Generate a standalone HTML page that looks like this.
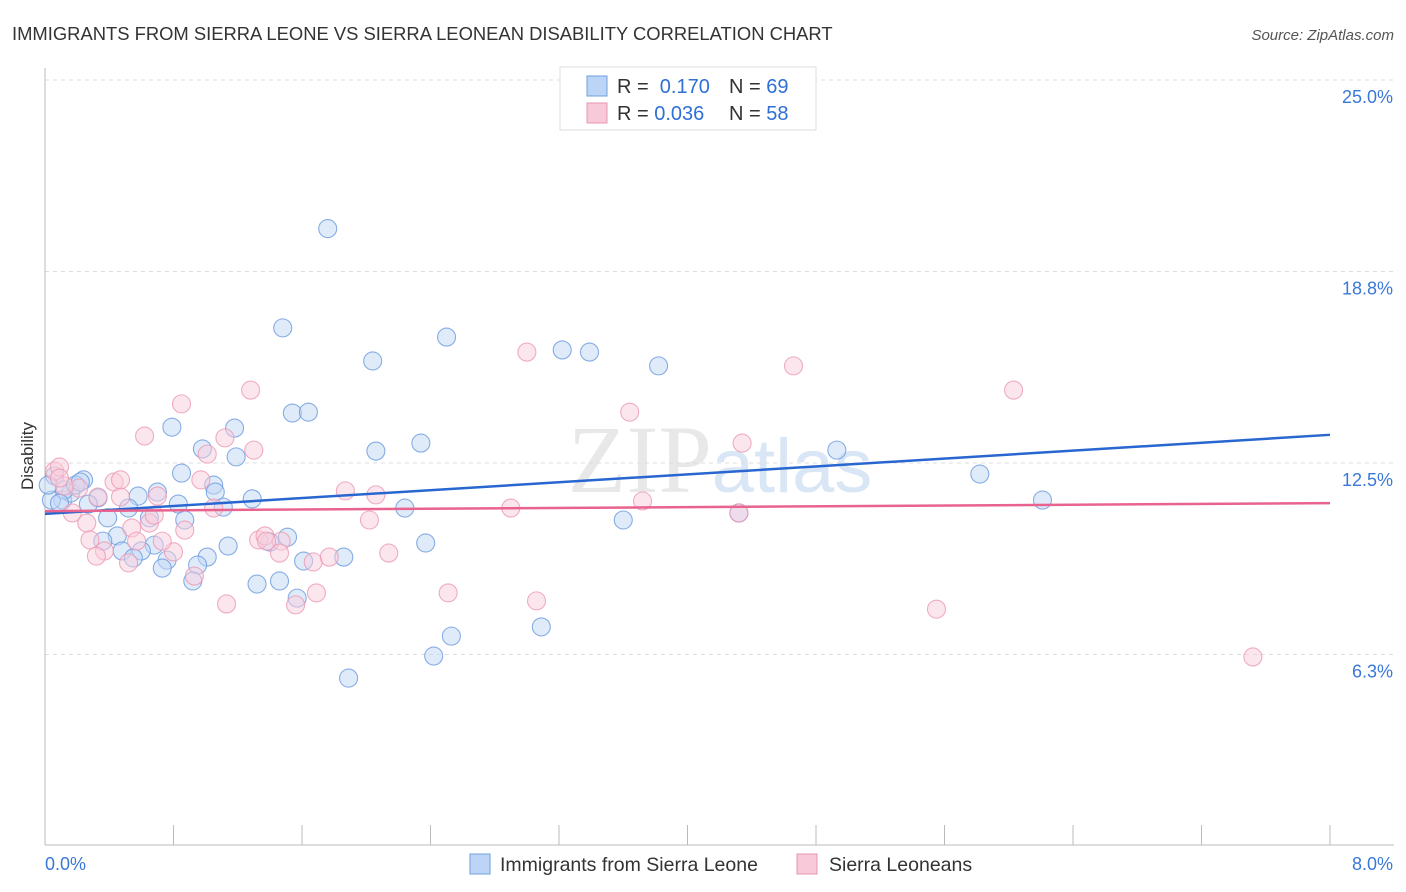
<!DOCTYPE html>
<html><head><meta charset="utf-8"><style>
body{margin:0;background:#fff;font-family:"Liberation Sans",sans-serif;}
svg{display:block}
</style></head><body>
<svg id="chart" width="1406" height="892">
<text x="12" y="40" font-size="18.4" fill="#333">IMMIGRANTS FROM SIERRA LEONE VS SIERRA LEONEAN DISABILITY CORRELATION CHART</text>
<text x="1394" y="40" font-size="15" fill="#555" font-style="italic" text-anchor="end">Source: ZipAtlas.com</text>
<text x="720" y="492" font-size="96" fill="#e8e8e8" text-anchor="middle" font-family="Liberation Serif,serif">ZIP<tspan fill="#d9e6f5" font-family="Liberation Sans,sans-serif" font-size="76">atlas</tspan></text>
<g id="grid"></g><g id="axes"></g><g id="pts"></g><g id="trend"></g>
<text x="33" y="456" font-size="17" fill="#333" transform="rotate(-90 33 456)" text-anchor="middle">Disability</text>
<g>
<rect x="560" y="67" width="256" height="63" fill="#fff" stroke="#ddd"/>
<rect x="587" y="76" width="20" height="20" fill="#bcd4f5" stroke="#6f9fe0"/>
<rect x="587" y="103" width="20" height="20" fill="#f8c9d8" stroke="#e896b0"/>
<text x="617" y="93" font-size="20" fill="#333">R = <tspan fill="#2f6fd6">&#160;0.170</tspan><tspan x="729">N = </tspan><tspan fill="#2f6fd6">69</tspan></text>
<text x="617" y="120" font-size="20" fill="#333">R = <tspan fill="#2f6fd6">0.036</tspan><tspan x="729">N = </tspan><tspan fill="#2f6fd6">58</tspan></text>
</g>
<g>
<rect x="470" y="854" width="20" height="20" fill="#bcd4f5" stroke="#6f9fe0"/>
<text x="500" y="871" font-size="19.5" fill="#333">Immigrants from Sierra Leone</text>
<rect x="797" y="854" width="20" height="20" fill="#f8c9d8" stroke="#e896b0"/>
<text x="829" y="871" font-size="19.5" fill="#333">Sierra Leoneans</text>
</g>
</svg>
<script>
const yTicks=[25,18.75,12.5,6.25];
const yTickLabels=["25.0%","18.8%","12.5%","6.3%"];
const xTickCount=10;
const xMin=0,xMax=8,yMin=0,yMax=25;
const blueX=[1.76,1.48,2.50,3.22,3.39,2.04,3.82,1.54,1.64,0.79,1.18,2.34,2.06,4.93,0.98,1.19,0.85,5.82,0.24,0.06,0.70,1.05,1.06,0.33,0.58,1.29,6.21,0.83,0.52,1.11,0.27,0.11,0.04,0.16,2.24,0.39,0.65,0.87,3.60,4.32,0.45,0.36,1.51,1.40,2.37,1.14,0.68,0.48,0.60,1.01,1.86,0.55,0.76,1.61,0.95,0.73,1.46,1.32,0.92,1.57,3.09,2.53,2.42,1.89,0.12,0.19,0.22,0.02,0.09];
const blueY=[20.15,16.91,16.61,16.19,16.12,15.83,15.67,14.13,14.16,13.67,13.64,13.15,12.89,12.92,12.96,12.70,12.17,12.14,11.95,12.08,11.55,11.78,11.55,11.36,11.42,11.33,11.29,11.16,11.03,11.06,11.16,11.29,11.29,11.52,11.03,10.71,10.71,10.64,10.64,10.87,10.12,9.95,10.08,9.92,9.89,9.79,9.82,9.63,9.63,9.43,9.43,9.40,9.33,9.30,9.17,9.07,8.65,8.55,8.65,8.09,7.15,6.85,6.20,5.48,11.62,11.78,11.88,11.78,11.19];
const pinkX=[7.52,5.55,6.03,4.66,3.00,3.64,4.34,1.28,0.85,0.62,1.12,1.30,1.01,0.43,0.06,0.09,1.87,2.06,0.97,0.33,0.47,0.70,2.90,3.72,4.32,2.02,0.65,1.05,0.87,0.54,0.26,0.17,0.28,0.37,0.57,1.33,1.37,1.47,0.32,0.52,0.80,0.73,1.46,1.67,1.77,2.14,0.93,1.13,1.56,1.69,2.51,3.06,0.21,0.12,0.09,0.68,0.47,1.38];
const pinkY=[6.17,7.73,14.88,15.67,16.12,14.16,13.15,14.88,14.43,13.38,13.32,12.92,12.79,11.88,12.24,12.37,11.59,11.46,11.95,11.39,11.39,11.42,11.03,11.26,10.87,10.64,10.54,11.03,10.31,10.38,10.54,10.87,9.99,9.63,9.95,9.99,10.12,9.95,9.46,9.24,9.60,9.95,9.56,9.27,9.43,9.56,8.81,7.90,7.87,8.26,8.26,8.00,11.68,11.75,12.01,10.80,11.95,9.95];
const blueTrend=[10.84,13.42];
const pinkTrend=[10.93,11.19];
const X0=45,X1=1330,Y0=846,Y1=80;
const sx=v=>X0+(v-xMin)/(xMax-xMin)*(X1-X0);
const sy=v=>Y0-(v-yMin)/(yMax-yMin)*(Y0-Y1);
const NS="http://www.w3.org/2000/svg";
function mk(tag,attrs,parent){const e=document.createElementNS(NS,tag);for(const k in attrs)e.setAttribute(k,attrs[k]);document.getElementById(parent).appendChild(e);return e;}
yTicks.forEach((t,i)=>{
 const l=mk('line',{x1:X0,x2:1394,y1:sy(t),y2:sy(t),stroke:'#ddd','stroke-dasharray':'4,4'},'grid');
 
 
 const tx=mk('text',{x:1393,y:sy(t)+23,'font-size':18,fill:'#3a78d8','text-anchor':'end'},'grid');
 tx.textContent=yTickLabels[i];
 
 
});
const ax=mk('line',{x1:X0,x2:X0,y1:68,y2:845,stroke:'#bbb'},'axes');


const bx=mk('line',{x1:X0,x2:1394,y1:845,y2:845,stroke:'#bbb'},'axes');


for(let i=0;i<=xTickCount;i++){
 const v=xMin+(xMax-xMin)*i/xTickCount;
 const t=mk('line',{x1:sx(v),x2:sx(v),y1:825,y2:845,stroke:'#bbb'},'axes');
 
 
}
const xl0=mk('text',{x:45,y:870,'font-size':18,fill:'#3a78d8'},'axes');xl0.textContent=xMin.toFixed(1)+'%';


const xl1=mk('text',{x:1393,y:870,'font-size':18,fill:'#3a78d8','text-anchor':'end'},'axes');xl1.textContent=xMax.toFixed(1)+'%';


function dots(xs,ys,fill,stroke,name){xs.forEach((x,i)=>{
 const c=mk('circle',{cx:sx(x),cy:sy(ys[i]),r:9,fill:fill,'fill-opacity':0.5,stroke:stroke,'stroke-opacity':0.8,'stroke-width':1.1},'pts');
 
 
});}
dots(blueX,blueY,'#c2d8f6','#6a9ade','blue-point');
dots(pinkX,pinkY,'#f9cedc','#ec98b3','pink-point');
const bl=mk('line',{x1:sx(xMin),y1:sy(blueTrend[0]),x2:sx(xMax),y2:sy(blueTrend[1]),stroke:'#2866d0','stroke-width':2.5},'trend');


const pl=mk('line',{x1:sx(xMin),y1:sy(pinkTrend[0]),x2:sx(xMax),y2:sy(pinkTrend[1]),stroke:'#e8648e','stroke-width':2.5},'trend');


</script>
</body></html>
